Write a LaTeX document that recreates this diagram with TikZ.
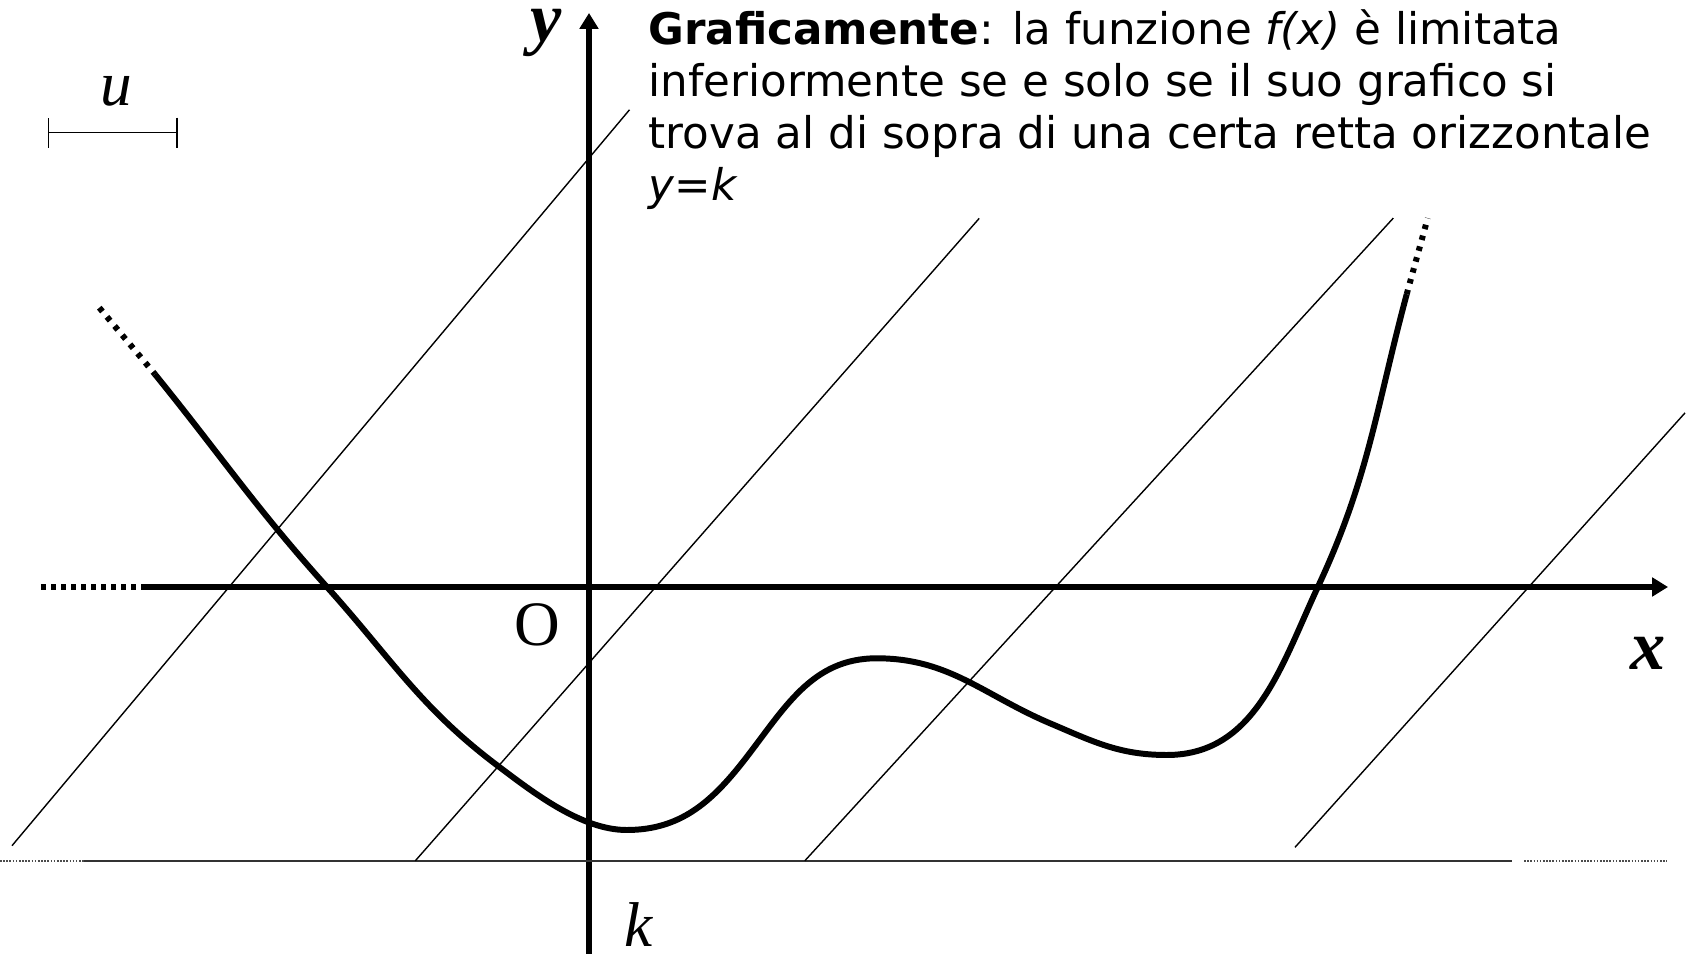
\documentclass[tikz,border=0pt]{standalone}
\usepackage{fontspec}
\setmainfont{DejaVu Sans}
\newfontfamily\tnr{Liberation Serif}
\usetikzlibrary{arrows.meta}

\begin{document}
\begin{tikzpicture}[line join=round, >={Triangle[length=4.5pt,width=5.2pt]},
		asse/.style={line width=1.5pt},
		retta/.style={line width=0.4pt},
		curva/.style={line width=1.7pt},
		puntini/.style={line width=1.7pt, dash pattern=on 1.4pt off 2pt},
		fini/.style={line width=0.45pt, black!70, dash pattern=on 0.45pt off 0.45pt},
		lab/.style={font=\tnr\fontsize{18}{18}\selectfont, inner sep=0pt},
		riga/.style={anchor=base west, inner sep=0pt, font=\fontsize{12.4}{14.8}\selectfont}]
	\useasboundingbox (-5.89,-3.66) rectangle (10.98,5.87);
	% assi
	\draw[asse,->] (-4.46,0)--(10.79,0);
	\draw[asse, dash pattern=on 1.5pt off 1.35pt] (-5.48,0)--(-4.46,0);
	\draw[asse,->] (0,-3.7)--(0,5.74);
	\node[lab, font=\tnr\fontsize{20}{20}\selectfont\bfseries\itshape] (xlab) at (10.59,-0.665) {x};
	\node[lab, font=\tnr\fontsize{20}{20}\selectfont\bfseries\itshape] (ylab) at (-0.425,5.54) {y};
	\node[lab] (orig) at (-0.515,-0.38) {O};
	% retta y=k
	\draw[line width=0.5pt, black!80] (-5.051,-2.738)--(9.227,-2.738);
	\draw[fini] (-5.89,-2.738)--(-5.051,-2.738);
	\draw[fini] (9.35,-2.738)--(10.777,-2.738);
	\node[lab, font=\tnr\fontsize{18}{18}\selectfont\itshape] (klab) at (0.494,-3.375) {k};
	% unita'
	\draw[retta, {Bar[width=8.5pt]}-{Bar[width=8.5pt]}] (-5.413,4.543)--(-4.114,4.543);
	\node[lab, font=\tnr\fontsize{18}{18}\selectfont\itshape] (ulab) at (-4.725,4.955) {u};
	% rette oblique
	\draw[retta] (-5.77,-2.587)--(0.405,4.772);
	\draw[retta] (-1.737,-2.738)--(3.902,3.686);
	\draw[retta] (2.158,-2.738)--(8.043,3.689);
	\draw[retta] (7.06,-2.603)--(10.96,1.741);
	% grafico di f
	\draw[puntini] (-4.897,2.793)--(-4.34,2.127);
	\draw[curva] (-4.34,2.127) to[out=-51,in=132] (-2.623,0.003)
		to[out=-48,in=143] (-0.923,-1.78)
		to[out=-37,in=180,looseness=0.8] (0.377,-2.43)
		to[out=0,in=232] (1.55,-1.735)
		to[out=52,in=180] (2.877,-0.713)
		to[out=0,in=157] (4.61,-1.363)
		to[out=-23,in=180] (5.777,-1.68)
		to[out=0,in=245] (7.293,0.01)
		to[out=65,in=255] (8.177,2.928);
	\draw[puntini, dash pattern=on 1.3pt off 1.9pt] (8.177,2.928)--(8.387,3.689);
	% testo
	\node[riga] (r1) at (0.59,5.42) {\textbf{Graficamente}: la funzione \textit{f(x)} è limitata};
	\node[riga] (r2) at (0.59,4.90) {inferiormente se e solo se il suo grafico si};
	\node[riga] (r3) at (0.59,4.38) {trova al di sopra di una certa retta orizzontale};
	\node[riga] (r4) at (0.59,3.86) {\textit{y=k}};
\end{tikzpicture}
\end{document}
